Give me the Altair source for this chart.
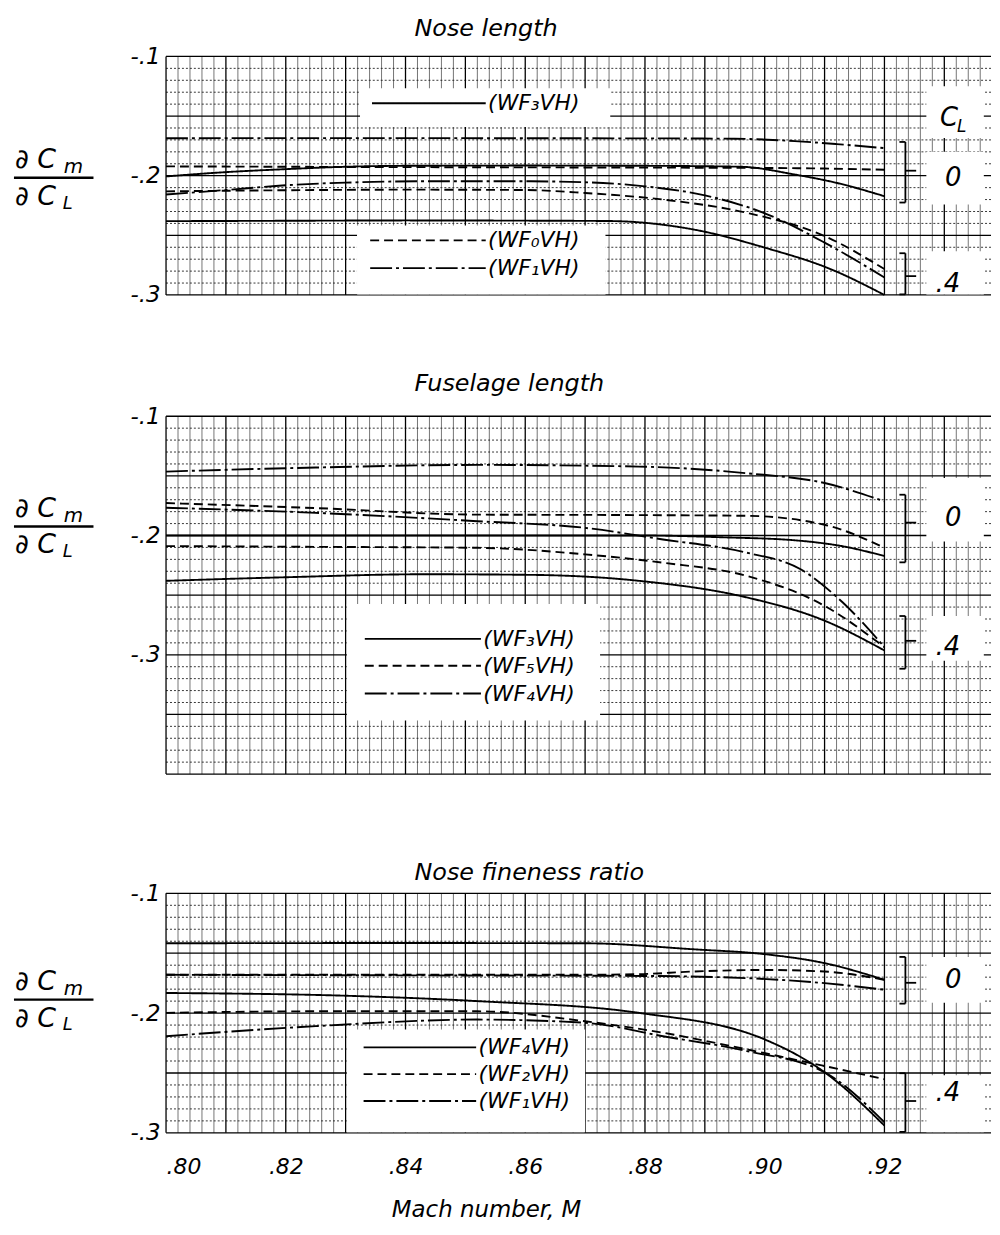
import altair as alt
import pandas as pd

FONT = "DejaVu Sans"
X_DOMAIN = [0.80, 0.9378]
PW = 830

mach_ticks = [0.80, 0.82, 0.84, 0.86, 0.88, 0.90, 0.92]
y_ticks = [-0.1, -0.2, -0.3]

# ---------------- Panel 1: Nose length ----------------
n_wf3_0_m = [0.80, 0.81, 0.82, 0.83, 0.84, 0.86, 0.88, 0.896, 0.905, 0.912, 0.92]
n_wf3_0_v = [-0.2006, -0.197, -0.1945, -0.1925, -0.1917, -0.1915, -0.1917, -0.1925, -0.199, -0.206, -0.2172]
n_wf0_0_m = [0.80, 0.82, 0.84, 0.86, 0.88, 0.90, 0.91, 0.92]
n_wf0_0_v = [-0.1922, -0.1925, -0.1928, -0.193, -0.1932, -0.1935, -0.194, -0.195]
n_wf1_0_m = [0.80, 0.82, 0.84, 0.86, 0.88, 0.895, 0.905, 0.912, 0.92]
n_wf1_0_v = [-0.1686, -0.1685, -0.1685, -0.1686, -0.1687, -0.169, -0.171, -0.1735, -0.1769]
n_wf3_4_m = [0.80, 0.82, 0.84, 0.86, 0.874, 0.888, 0.90, 0.911, 0.92]
n_wf3_4_v = [-0.2381, -0.2378, -0.2375, -0.2377, -0.238, -0.245, -0.2603, -0.2783, -0.30]
n_wf0_4_m = [0.80, 0.82, 0.84, 0.86, 0.87, 0.883, 0.897, 0.91, 0.92]
n_wf0_4_v = [-0.2131, -0.2122, -0.2117, -0.212, -0.2145, -0.22, -0.2311, -0.2506, -0.2783]
n_wf1_4_m = [0.80, 0.81, 0.82, 0.83, 0.843, 0.86, 0.87, 0.88, 0.89, 0.90, 0.91, 0.92]
n_wf1_4_v = [-0.2158, -0.212, -0.208, -0.2058, -0.2047, -0.2047, -0.2055, -0.2089, -0.2165, -0.2315, -0.2561, -0.2853]

# ---------------- Panel 2: Fuselage length ----------------
f_wf3_0_m = [0.80, 0.84, 0.88, 0.893, 0.905, 0.913, 0.92]
f_wf3_0_v = [-0.200, -0.200, -0.200, -0.2015, -0.204, -0.209, -0.2172]
f_wf5_0_m = [0.80, 0.825, 0.852, 0.875, 0.897, 0.91, 0.92]
f_wf5_0_v = [-0.1728, -0.177, -0.1825, -0.1828, -0.1835, -0.191, -0.2103]
f_wf4_0_m = [0.80, 0.825, 0.852, 0.879, 0.897, 0.91, 0.92]
f_wf4_0_v = [-0.1464, -0.143, -0.1408, -0.1422, -0.1478, -0.156, -0.1714]
f_wf3_4_m = [0.80, 0.82, 0.843, 0.861, 0.879, 0.897, 0.91, 0.92]
f_wf3_4_v = [-0.238, -0.235, -0.2325, -0.233, -0.238, -0.2519, -0.2714, -0.2964]
f_wf5_4_m = [0.80, 0.825, 0.852, 0.87, 0.883, 0.897, 0.91, 0.92]
f_wf5_4_v = [-0.2089, -0.2095, -0.2103, -0.2158, -0.2228, -0.2339, -0.259, -0.2936]
f_wf4_4_m = [0.80, 0.825, 0.852, 0.87, 0.883, 0.897, 0.906, 0.913, 0.92]
f_wf4_4_v = [-0.1767, -0.181, -0.188, -0.1936, -0.2033, -0.2144, -0.2283, -0.256, -0.2936]

# ---------------- Panel 3: Nose fineness ratio ----------------
r_wf4_0_m = [0.80, 0.84, 0.87, 0.888, 0.90, 0.91, 0.92]
r_wf4_0_v = [-0.1417, -0.1415, -0.1417, -0.1467, -0.1508, -0.1583, -0.1722]
r_wf2_0_m = [0.80, 0.84, 0.87, 0.879, 0.888, 0.90, 0.91, 0.92]
r_wf2_0_v = [-0.168, -0.168, -0.168, -0.1675, -0.1653, -0.164, -0.1653, -0.1722]
r_wf1_0_m = [0.80, 0.84, 0.88, 0.897, 0.91, 0.92]
r_wf1_0_v = [-0.168, -0.1685, -0.169, -0.1708, -0.175, -0.1805]
r_wf4_4_m = [0.80, 0.83, 0.852, 0.879, 0.90, 0.91, 0.92]
r_wf4_4_v = [-0.1832, -0.1855, -0.190, -0.1998, -0.222, -0.2494, -0.2939]
r_wf2_4_m = [0.80, 0.825, 0.852, 0.87, 0.883, 0.897, 0.91, 0.92]
r_wf2_4_v = [-0.1998, -0.1985, -0.1985, -0.2068, -0.2164, -0.2303, -0.2442, -0.2552]
r_wf1_4_m = [0.80, 0.825, 0.852, 0.87, 0.883, 0.897, 0.91, 0.92]
r_wf1_4_v = [-0.2193, -0.2109, -0.2054, -0.2081, -0.2193, -0.2317, -0.2494, -0.2911]

# legend labels
p1_leg_labels = ["(WF\u2083VH)", "(WF\u2080VH)", "(WF\u2081VH)"]
p2_leg_labels = ["(WF\u2083VH)", "(WF\u2085VH)", "(WF\u2084VH)"]
p3_leg_labels = ["(WF\u2084VH)", "(WF\u2082VH)", "(WF\u2081VH)"]

STYLE_DOMAIN = ["solid", "dashed", "dashdot"]
STYLE_RANGE = [[1, 0], [9, 5], [22, 4, 3, 4]]


def series_df(series):
    rows = []
    for name, style, m, v in series:
        for a, b in zip(m, v):
            rows.append({"M": a, "V": b, "series": name, "style": style})
    return pd.DataFrame(rows)


def frange(lo, hi, step):
    n = int(round((hi - lo) / step))
    return [round(lo + i * step, 4) for i in range(n + 1)]


def panel(title, title_offset, ydom, height, series, legend, boxes, brackets,
          rlabels, frac_y, show_x, cl_label=None):
    xs = alt.Scale(domain=X_DOMAIN, nice=False, zero=False)
    ys = alt.Scale(domain=ydom, nice=False, zero=False)
    if show_x:
        xaxis = alt.Axis(values=mach_ticks,
                         labelExpr="replace(format(datum.value, '.2f'), '0.', '.')",
                         labelFont=FONT, labelFontSize=22, labelFontStyle="italic",
                         labelColor="black", labelPadding=24, ticks=False, domain=False,
                         grid=False, title="Mach number, M", titleFont=FONT,
                         titleFontSize=23, titleFontStyle="italic", titleFontWeight="normal",
                         titleColor="black", titlePadding=21, titleX=322)
    else:
        xaxis = None
    yaxis = alt.Axis(values=y_ticks,
                     labelExpr="replace(replace(format(datum.value, '.1f'), '0.', '.'), '\u2212', '-')",
                     labelFont=FONT, labelFontSize=23, labelFontStyle="italic",
                     labelColor="black", labelPadding=6, ticks=False, domain=False,
                     grid=False, title=None)

    def X(f):
        return alt.X(f"{f}:Q", scale=xs, axis=xaxis)

    def Y(f):
        return alt.Y(f"{f}:Q", scale=ys, axis=yaxis)

    # grid
    vx = frange(0.80, 0.936, 0.002)
    v_minor = pd.DataFrame({"M": [v for i, v in enumerate(vx) if i % 5 != 0]})
    v_major = pd.DataFrame({"M": [v for i, v in enumerate(vx) if i % 5 == 0]})
    hy = frange(ydom[0], ydom[1], 0.01)
    nh = len(hy) - 1
    h_minor = pd.DataFrame({"V": [v for i, v in enumerate(hy) if (nh - i) % 5 != 0]})
    h_major = pd.DataFrame({"V": [v for i, v in enumerate(hy) if (nh - i) % 5 == 0]})

    layers = [
        alt.Chart(v_minor).mark_rule(color="#3a3a3a", strokeWidth=0.7).encode(x=X("M")),
        alt.Chart(h_minor).mark_rule(color="#222", strokeWidth=0.9, strokeDash=[2, 2]).encode(y=Y("V")),
        alt.Chart(v_major).mark_rule(color="#000", strokeWidth=1.3).encode(x=X("M")),
        alt.Chart(h_major).mark_rule(color="#000", strokeWidth=1.3).encode(y=Y("V")),
    ]
    # white boxes (legend / labels areas)
    bdf = pd.DataFrame(boxes, columns=["M", "M2", "V", "V2"])
    layers.append(alt.Chart(bdf).mark_rect(color="white").encode(
        x=X("M"), x2="M2:Q", y=Y("V"), y2="V2:Q"))
    # curves
    sdf = series_df(series)
    layers.append(alt.Chart(sdf).mark_line(color="black", strokeWidth=1.9,
                                           interpolate="monotone").encode(
        x=X("M"), y=Y("V"), detail="series:N",
        strokeDash=alt.StrokeDash("style:N", scale=alt.Scale(domain=STYLE_DOMAIN, range=STYLE_RANGE),
                                  legend=None)))
    # legend
    ldf = pd.DataFrame(legend, columns=["M", "M2", "MT", "V", "label", "style"])
    layers.append(alt.Chart(ldf).mark_rule(color="black", strokeWidth=1.9).encode(
        x=X("M"), x2="M2:Q", y=Y("V"),
        strokeDash=alt.StrokeDash("style:N", scale=alt.Scale(domain=STYLE_DOMAIN, range=STYLE_RANGE),
                                  legend=None)))
    layers.append(alt.Chart(ldf).mark_text(align="left", baseline="middle", font=FONT,
                                           fontSize=22, fontStyle="italic", color="black").encode(
        x=alt.X("MT:Q", scale=xs, axis=xaxis), y=Y("V"), text="label:N"))
    # brackets: xb, xh, xt, top, bottom, mid
    segs = []
    for xb, xh, xt, top, bot, mid in brackets:
        segs += [(xb, xb, top, bot), (xh, xb, top, top), (xh, xb, bot, bot), (xb, xt, mid, mid)]
    brdf = pd.DataFrame(segs, columns=["M", "M2", "V", "V2"])
    layers.append(alt.Chart(brdf).mark_rule(color="black", strokeWidth=1.8).encode(
        x=X("M"), x2="M2:Q", y=Y("V"), y2="V2:Q"))
    # right labels
    rdf = pd.DataFrame(rlabels, columns=["M", "V", "label"])
    layers.append(alt.Chart(rdf).mark_text(align="center", baseline="middle", font=FONT,
                                           fontSize=26, fontStyle="italic", color="black").encode(
        x=X("M"), y=Y("V"), text="label:N"))
    if cl_label is not None:
        cm, cv = cl_label
        cdf = pd.DataFrame({"M": [cm], "V": [cv], "t": ["C"]})
        layers.append(alt.Chart(cdf).mark_text(align="center", baseline="middle", font=FONT,
                                               fontSize=26, fontStyle="italic", color="black").encode(
            x=X("M"), y=Y("V"), text="t:N"))
        layers.append(alt.Chart(cdf).mark_text(align="left", baseline="middle", font=FONT,
                                               fontSize=17, fontStyle="italic", color="black",
                                               dx=8, dy=9).encode(
            x=X("M"), y=Y("V"), text=alt.value("L")))
    # y label fraction
    one = pd.DataFrame({"a": [0]})
    layers.append(alt.Chart(one).mark_rule(color="black", strokeWidth=2.4).encode(
        x=alt.value(-153), x2=alt.value(-73), y=alt.value(frac_y)))
    tstyle = dict(align="left", baseline="middle", font=FONT, fontStyle="italic", color="black")
    layers.append(alt.Chart(one).mark_text(fontSize=27, **tstyle).encode(
        x=alt.value(-152), y=alt.value(frac_y - 18), text=alt.value("\u2202 C")))
    layers.append(alt.Chart(one).mark_text(fontSize=20, **tstyle).encode(
        x=alt.value(-103), y=alt.value(frac_y - 11), text=alt.value("m")))
    layers.append(alt.Chart(one).mark_text(fontSize=27, **tstyle).encode(
        x=alt.value(-152), y=alt.value(frac_y + 19), text=alt.value("\u2202 C")))
    layers.append(alt.Chart(one).mark_text(fontSize=18, **tstyle).encode(
        x=alt.value(-104), y=alt.value(frac_y + 26), text=alt.value("L")))

    return alt.layer(*layers).properties(
        width=PW, height=height,
        title=alt.TitleParams(title, font=FONT, fontSize=24, fontStyle="italic",
                              fontWeight="normal", color="black", anchor="start",
                              frame="group", dx=250, offset=title_offset))


S0, S1, S2 = STYLE_DOMAIN

p1 = panel(
    "Nose length", 5, [-0.3, -0.1], 240,
    [("wf3_0", S0, n_wf3_0_m, n_wf3_0_v), ("wf0_0", S1, n_wf0_0_m, n_wf0_0_v),
     ("wf1_0", S2, n_wf1_0_m, n_wf1_0_v), ("wf3_4", S0, n_wf3_4_m, n_wf3_4_v),
     ("wf0_4", S1, n_wf0_4_m, n_wf0_4_v), ("wf1_4", S2, n_wf1_4_m, n_wf1_4_v)],
    [(0.8344, 0.8534, 0.8538, -0.1392, p1_leg_labels[0], S0),
     (0.8341, 0.8534, 0.8538, -0.2542, p1_leg_labels[1], S1),
     (0.8341, 0.8534, 0.8538, -0.2775, p1_leg_labels[2], S2)],
    [(0.8324, 0.8742, -0.1267, -0.1592), (0.8319, 0.8734, -0.2417, -0.2995),
     (0.927, 0.9366, -0.125, -0.1683), (0.927, 0.9366, -0.18, -0.2242),
     (0.927, 0.9366, -0.2633, -0.2995)],
    [(0.9235, 0.9225, 0.9253, -0.1717, -0.2225, -0.1958),
     (0.9235, 0.9225, 0.9253, -0.265, -0.2995, -0.2842)],
    [(0.9315, -0.2017, "0"), (0.9306, -0.2908, ".4")],
    122, False, cl_label=(0.9308, -0.1517))

p2 = panel(
    "Fuselage length", 9, [-0.4, -0.1], 360,
    [("wf3_0", S0, f_wf3_0_m, f_wf3_0_v), ("wf5_0", S1, f_wf5_0_m, f_wf5_0_v),
     ("wf4_0", S2, f_wf4_0_m, f_wf4_0_v), ("wf3_4", S0, f_wf3_4_m, f_wf3_4_v),
     ("wf5_4", S1, f_wf5_4_m, f_wf5_4_v), ("wf4_4", S2, f_wf4_4_m, f_wf4_4_v)],
    [(0.8332, 0.8526, 0.853, -0.2867, p2_leg_labels[0], S0),
     (0.8332, 0.8526, 0.853, -0.3092, p2_leg_labels[1], S1),
     (0.8332, 0.8526, 0.853, -0.3325, p2_leg_labels[2], S2)],
    [(0.8302, 0.8725, -0.2575, -0.355),
     (0.927, 0.9366, -0.1517, -0.205), (0.927, 0.9366, -0.2675, -0.305)],
    [(0.9235, 0.9225, 0.9253, -0.1658, -0.2225, -0.1892),
     (0.9235, 0.9225, 0.9253, -0.2675, -0.3117, -0.2883)],
    [(0.9315, -0.185, "0"), (0.9306, -0.2933, ".4")],
    111, False)

p3 = panel(
    "Nose fineness ratio", -3, [-0.3, -0.1], 241,
    [("wf4_0", S0, r_wf4_0_m, r_wf4_0_v), ("wf2_0", S1, r_wf2_0_m, r_wf2_0_v),
     ("wf1_0", S2, r_wf1_0_m, r_wf1_0_v), ("wf4_4", S0, r_wf4_4_m, r_wf4_4_v),
     ("wf2_4", S1, r_wf2_4_m, r_wf2_4_v), ("wf1_4", S2, r_wf1_4_m, r_wf1_4_v)],
    [(0.833, 0.8518, 0.8522, -0.2286, p3_leg_labels[0], S0),
     (0.833, 0.8518, 0.8522, -0.2510, p3_leg_labels[1], S1),
     (0.833, 0.8518, 0.8522, -0.2734, p3_leg_labels[2], S2)],
    [(0.8302, 0.870, -0.2137, -0.2995),
     (0.927, 0.9366, -0.1531, -0.1913), (0.927, 0.9366, -0.2519, -0.2995)],
    [(0.9235, 0.9225, 0.9253, -0.1531, -0.1921, -0.1747),
     (0.9235, 0.9225, 0.9253, -0.2502, -0.2992, -0.2734)],
    [(0.9315, -0.1722, "0"), (0.9306, -0.2668, ".4")],
    107, True)

top = alt.vconcat(p1, p2, spacing=66)
chart = alt.vconcat(top, p3, spacing=87).configure_view(stroke=None).properties(
    background="white", padding={"left": 4, "top": 5, "right": 0, "bottom": 5})

chart.save("out.html", embed_options={"renderer": "svg", "actions": False})
